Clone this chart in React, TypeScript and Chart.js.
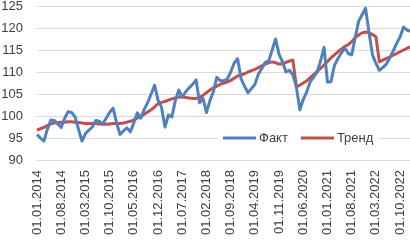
import React, { useEffect, useRef } from "react";
import { Chart, registerables } from "chart.js";

Chart.register(...registerables);

const START_YEAR = 2014;
const MONTH_COUNT = 109;
const categories: string[] = Array.from({ length: MONTH_COUNT }, (_, i) => {
  const m = (i % 12) + 1;
  const y = START_YEAR + Math.floor(i / 12);
  return `01.${m < 10 ? "0" + m : m}.${y}`;
});

const factValues: number[] = [
  95.8, 95.0, 94.3, 97.0, 99.1, 99.0, 98.2, 97.4, 99.5, 101.0, 100.8, 99.8,
  97.0, 94.3, 96.0, 96.8, 97.5, 99.0, 98.8, 98.2, 99.5, 100.8, 101.8, 98.5,
  95.8, 96.6, 97.3, 96.4, 98.5, 100.7, 99.5, 101.5, 103.0, 105.0, 107.0, 103.6,
  102.0, 97.5, 100.2, 99.8, 103.5, 105.9, 104.3, 105.5, 106.4, 107.2, 108.2, 103.0,
  104.0, 100.8, 103.5, 105.5, 108.8, 108.0, 108.0, 108.4, 110.0, 112.0, 113.0, 108.5,
  106.8, 105.3, 106.2, 107.2, 109.5, 110.8, 112.2, 112.5, 115.0, 117.5, 114.0, 112.3,
  110.0, 110.4, 109.3, 106.6, 101.4, 103.8, 105.5, 107.8, 108.8, 110.0, 112.5, 115.6,
  107.7, 107.8, 111.5, 113.0, 114.3, 115.5, 114.2, 113.9, 117.8, 121.5, 123.0, 124.5,
  119.0, 113.9, 112.0, 110.4, 111.0, 111.8, 113.2, 114.8, 116.5, 118.0, 120.2, 119.5,
  119.3,
];

const trendValues: number[] = [
  96.8, 97.1, 97.4, 97.8, 98.2, 98.4, 98.5, 98.6, 98.6, 98.7, 98.7, 98.6,
  98.5, 98.4, 98.3, 98.3, 98.3, 98.3, 98.2, 98.1, 98.1, 98.2, 98.3, 98.3,
  98.3, 98.4, 98.6, 98.8, 99.1, 99.5, 99.9, 100.4, 100.9, 101.4, 102.1, 102.8,
  103.1, 103.3, 103.6, 103.9, 104.1, 104.3, 104.3, 104.2, 104.1, 104.0, 104.0, 104.2,
  104.7, 105.3, 105.9, 106.4, 106.8, 107.2, 107.5, 107.7, 108.1, 108.6, 109.1, 109.3,
  109.6, 110.0, 110.3, 110.6, 111.0, 111.4, 111.8, 112.1, 112.3, 112.1, 111.8, 111.8,
  112.2, 112.5, 112.7, 106.6, 107.0, 107.5, 108.0, 108.7, 109.4, 110.1, 110.8, 111.6,
  112.4, 113.2, 113.9, 114.6, 115.2, 115.8, 116.2, 116.9, 117.8, 118.4, 118.9, 119.1,
  118.9, 118.5, 118.0, 112.3, 112.7, 113.1, 113.4, 113.8, 114.2, 114.6, 115.0, 115.4,
  115.7,
];

const yTicks: number[] = [90, 95, 100, 105, 110, 115, 120, 125];
const LABEL_EVERY = 7;
const seriesNames = ["Факт", "Тренд"];
const seriesColors = ["#4f81bd", "#c0504d"];

const FONT = "'Liberation Sans', Arial, sans-serif";
const TEXT_COLOR = "#404040";
const GRID_COLOR = "#d9d9d9";

const insideLegend = {
  id: "insideLegend",
  afterDraw(chart: any) {
    const { ctx, chartArea } = chart;
    const y = chart.scales.y.getPixelForValue(95);
    ctx.save();
    ctx.font = `13px ${FONT}`;
    ctx.textBaseline = "middle";
    const sampleLen = 33;
    const gap = 3;
    const itemGap = 13;
    const widths = chart.data.datasets.map((d: any) => sampleLen + gap + ctx.measureText(d.label).width);
    const total = widths.reduce((a: number, b: number) => a + b, 0) + itemGap * (widths.length - 1);
    let x = chartArea.left + 186;
    ctx.fillStyle = "#ffffff";
    ctx.fillRect(x - 5, y - 9, total + 10, 18);
    chart.data.datasets.forEach((d: any, i: number) => {
      ctx.strokeStyle = d.borderColor;
      ctx.lineWidth = 3;
      ctx.beginPath();
      ctx.moveTo(x, y);
      ctx.lineTo(x + sampleLen, y);
      ctx.stroke();
      ctx.fillStyle = TEXT_COLOR;
      ctx.fillText(d.label, x + sampleLen + gap, y + 0.5);
      x += widths[i] + itemGap;
    });
    ctx.restore();
  },
};

const zeroPad = (scale: any) => {
  scale.paddingTop = 0;
  scale.paddingBottom = 0;
  scale.paddingLeft = 0;
  scale.paddingRight = 0;
};

export default function App() {
  const ref = useRef<HTMLCanvasElement | null>(null);
  useEffect(() => {
    if (!ref.current) return;
    const chart = new Chart(ref.current, {
      type: "line",
      data: {
        labels: categories,
        datasets: [
          {
            label: seriesNames[0],
            data: factValues,
            borderColor: seriesColors[0],
            backgroundColor: seriesColors[0],
            borderWidth: 3,
            pointRadius: 0,
            tension: 0,
            borderJoinStyle: "round",
          },
          {
            label: seriesNames[1],
            data: trendValues,
            borderColor: seriesColors[1],
            backgroundColor: seriesColors[1],
            borderWidth: 3,
            pointRadius: 0,
            tension: 0,
            borderJoinStyle: "round",
          },
        ],
      },
      options: {
        responsive: false,
        animation: false,
        layout: { padding: { left: 0, right: 9.5, top: 6, bottom: 0 } },
        plugins: { legend: { display: false }, tooltip: { enabled: false } },
        scales: {
          x: {
            offset: false,
            grid: { display: false, drawTicks: false },
            border: { display: true, color: GRID_COLOR, width: 1 },
            afterFit: (scale: any) => {
              scale.height = 80;
              zeroPad(scale);
            },
            ticks: {
              autoSkip: false,
              minRotation: 90,
              maxRotation: 90,
              padding: 10,
              color: TEXT_COLOR,
              font: { family: FONT, size: 13 },
              callback: (_v: any, i: number) => (i % LABEL_EVERY === 0 ? categories[i] : ""),
            },
          },
          y: {
            min: yTicks[0],
            max: yTicks[yTicks.length - 1],
            afterBuildTicks: (scale: any) => {
              scale.ticks = yTicks.map((v) => ({ value: v }));
            },
            afterFit: (scale: any) => {
              scale.width = 37;
              zeroPad(scale);
            },
            grid: { color: GRID_COLOR, lineWidth: 1, drawTicks: false },
            border: { display: false },
            ticks: {
              autoSkip: false,
              padding: 14,
              color: TEXT_COLOR,
              font: { family: FONT, size: 13 },
            },
          },
        },
      },
      plugins: [insideLegend],
    });
    return () => chart.destroy();
  }, []);
  return (
    <div style={{ position: "fixed", left: 0, top: 0, width: 410, height: 240, overflow: "hidden", background: "#fff" }}>
      <canvas ref={ref} width={420} height={240} style={{ position: "absolute", left: 0, top: 0, width: 420, height: 240 }} />
    </div>
  );
}
